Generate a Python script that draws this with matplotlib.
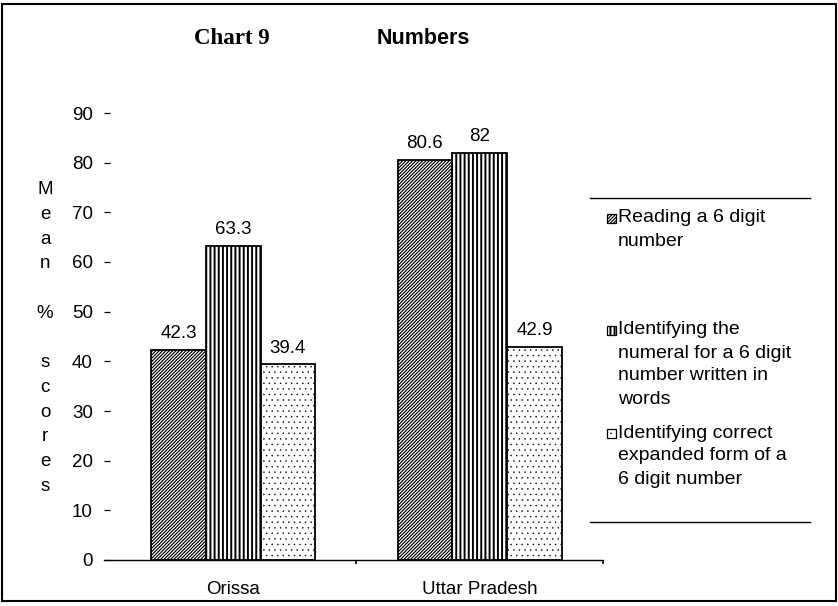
import matplotlib
matplotlib.use("Agg")
import matplotlib.pyplot as plt
from matplotlib.patches import Rectangle
from matplotlib.lines import Line2D
import numpy as np

categories = ["Orissa", "Uttar Pradesh"]
series_names = [
    "Reading a 6 digit\nnumber",
    "Identifying the\nnumeral for a 6 digit\nnumber written in\nwords",
    "Identifying correct\nexpanded form of a\n6 digit number",
]
reading = [42.3, 80.6]
identifying_numeral = [63.3, 82.0]
expanded_form = [39.4, 42.9]
y_ticks = [0, 10, 20, 30, 40, 50, 60, 70, 80, 90]

series_values = [reading, identifying_numeral, expanded_form]
hatches = ["//////////", "||||", "..."]
hatch_widths = [0.85, 1.4, 0.3]

plt.rcParams["font.family"] = ["Liberation Sans", "DejaVu Sans"]

W, H = 838, 606
fig = plt.figure(figsize=(W / 100, H / 100), dpi=100)

def fx(px):
    return px / W

def fy(py):
    return 1 - py / H

ax_left, ax_right, ax_top, ax_bottom = 104, 603, 113, 560
ax = fig.add_axes([fx(ax_left), fy(ax_bottom), fx(ax_right) - fx(ax_left),
                   fy(ax_top) - fy(ax_bottom)])

centers = np.arange(len(categories)) + 0.5
bar_w = 0.222
offsets = [-bar_w, 0.0, bar_w]

for vals, off, hatch, hlw in zip(series_values, offsets, hatches, hatch_widths):
    with plt.rc_context({"hatch.linewidth": hlw}):
        bars = ax.bar(centers + off, vals, width=bar_w, facecolor="white",
                      edgecolor="black", linewidth=1.3, hatch=hatch, zorder=2)
    for rect, v in zip(bars, vals):
        label = f"{v:g}"
        ax.annotate(label, (rect.get_x() + rect.get_width() / 2, v),
                    xytext=(0, 8.5), textcoords="offset points",
                    ha="center", va="baseline", fontsize=13.5)

ax.set_ylim(0, 90)
ax.set_xlim(-0.024, 2.0)
ax.set_yticks(y_ticks)
ax.set_yticklabels([str(t) for t in y_ticks])
ax.tick_params(axis="y", direction="in", length=4.5, width=0.9, pad=8,
               labelsize=13.5, colors="black")

ax.set_xticks([1, 2])
ax.set_xticklabels([])
ax.tick_params(axis="x", which="major", direction="out", length=3, width=1.2)
ax.set_xticks(centers, minor=True)
ax.set_xticklabels(categories, minor=True)
ax.tick_params(axis="x", which="minor", length=0, pad=15, labelsize=13.5)

for side in ["top", "right", "left"]:
    ax.spines[side].set_visible(False)
ax.spines["bottom"].set_linewidth(1.0)

# Stacked vertical axis label
fig.text(fx(45), fy(338), "M\ne\na\nn\n\n%\n\ns\nc\no\nr\ne\ns",
         ha="center", va="center", fontsize=13.5, linespacing=1.59)

# Titles
fig.text(fx(232), fy(38), "Chart 9", ha="center", va="center",
         fontsize=16.5, fontweight="bold", family="Liberation Serif")
fig.text(fx(423), fy(38), "Numbers", ha="center", va="center",
         fontsize=15.5, fontweight="bold")

# Legend block
for y in (198, 522):
    fig.add_artist(Line2D([fx(590), fx(810)], [fy(y), fy(y)],
                          transform=fig.transFigure, color="black", lw=1.0))

entry_tops = [218, 330, 433]
line_step = 23
for name, hatch, hlw, y0 in zip(series_names, hatches, hatch_widths, entry_tops):
    with plt.rc_context({"hatch.linewidth": hlw}):
        sq = Rectangle((fx(607), fy(y0 + 4.5)), fx(9), fy(0) - fy(9),
                       transform=fig.transFigure, facecolor="white",
                       edgecolor="black", linewidth=0.9, hatch=hatch)
    fig.add_artist(sq)
    for i, line in enumerate(name.split("\n")):
        fig.text(fx(618), fy(y0 + i * line_step), line, ha="left",
                 va="center", fontsize=14)

# Outer frame
fig.add_artist(Rectangle((fx(2), fy(601)), fx(834), fy(4) - fy(601),
                         transform=fig.transFigure, fill=False,
                         edgecolor="black", linewidth=1.5))

fig.savefig("out.png", dpi=100)
